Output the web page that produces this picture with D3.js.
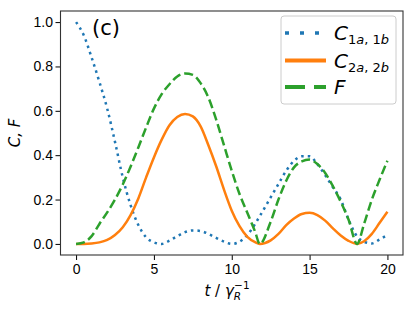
<!DOCTYPE html>
<html>
  <head>
    <meta charset="utf-8">
    <title>C, F vs t</title>
    <style>
    body { margin: 0; background: white; }
    svg { font-family: "DejaVu Sans", sans-serif; }
    .tick text { font-size: 14px; fill: #000; }
    .tick line { stroke: #000; stroke-width: 1; }
    </style>
  </head>
  <body>
    <script src="https://cdn.jsdelivr.net/npm/d3@7/dist/d3.min.js"></script>
    <script>

    var width = 414, height = 311;

    // time axis, t / gamma_R^-1
    var tVals = [0, 0.5, 1, 1.5, 2, 2.5, 3, 3.5, 4, 4.5, 5, 5.5, 6, 6.5, 7, 7.5, 8, 8.5, 9, 9.5,
                 10, 10.5, 11, 11.5, 11.8, 12.5, 13, 13.5, 14, 14.5, 15, 15.5, 16, 16.5, 17, 17.5,
                 18.05, 18.5, 19, 19.5, 20];

    // C_{1a,1b}
    var c1 = [1.0, 0.94, 0.84, 0.73, 0.61, 0.46, 0.30, 0.175, 0.085, 0.03, 0.007, 0.0, 0.015, 0.035, 0.053, 0.061, 0.058, 0.045, 0.027, 0.01,
              0.0, 0.01, 0.04, 0.09, 0.125, 0.21, 0.27, 0.33, 0.375, 0.395, 0.395, 0.36, 0.31, 0.255, 0.2, 0.11,
              0.033, 0.01, 0.002, 0.02, 0.04];

    // C_{2a,2b}
    var c2 = [0, 0, 0.002, 0.007, 0.018, 0.04, 0.075, 0.13, 0.205, 0.3, 0.39, 0.47, 0.535, 0.572, 0.586, 0.575, 0.53, 0.445, 0.35, 0.245,
              0.15, 0.08, 0.032, 0.008, 0.0, 0.016, 0.045, 0.085, 0.115, 0.135, 0.14, 0.13, 0.105, 0.07, 0.038, 0.014,
              0.0, 0.012, 0.045, 0.095, 0.145];

    // F
    var fid = [0, 0.007, 0.035, 0.09, 0.142, 0.2, 0.268, 0.348, 0.435, 0.525, 0.61, 0.675, 0.72, 0.755, 0.768, 0.762, 0.725, 0.66, 0.56, 0.445,
               0.33, 0.225, 0.14, 0.055, 0.0, 0.1, 0.2, 0.285, 0.345, 0.372, 0.38, 0.36, 0.32, 0.26, 0.19, 0.11,
               0.0, 0.09, 0.2, 0.29, 0.375];

    var xTicks = [0, 5, 10, 15, 20];
    var yTicks = [0, 0.2, 0.4, 0.6, 0.8, 1.0];

    var svg = d3.select("body").append("svg")
      .attr("width", width)
      .attr("height", height);

    var mLeft = 60.5, mRight = 403, mTop = 11, mBottom = 255;

    var x = d3.scaleLinear().domain([-1, 21]).range([mLeft, mRight]);
    var y = d3.scaleLinear().domain([-0.05, 1.05]).range([mBottom, mTop]);

    // ejes
    var gx = svg.append("g")
      .attr("transform", "translate(0," + mBottom + ")")
      .call(d3.axisBottom(x).tickValues(xTicks).tickSize(5).tickPadding(4).tickFormat(d3.format("d")));
    gx.select(".domain").remove();

    var gy = svg.append("g")
      .attr("transform", "translate(" + mLeft + ",0)")
      .call(d3.axisLeft(y).tickValues(yTicks).tickSize(5).tickPadding(2.5).tickFormat(d3.format(".1f")));
    gy.select(".domain").remove();

    // series
    var series = [
      { vals: c1, color: "#1f77b4", dash: "2.5,4.1" },
      { vals: c2, color: "#ff7f0e", dash: null },
      { vals: fid, color: "#2ca02c", dash: "9,4" }
    ];

    var line = d3.line()
      .x(function(d) { return x(d[0]); })
      .y(function(d) { return y(d[1]); })
      .curve(d3.curveMonotoneX);

    series.forEach(function(s) {
      svg.append("path")
        .datum(tVals.map(function(t, i) { return [t, s.vals[i]]; }))
        .attr("d", line)
        .attr("fill", "none")
        .attr("stroke", s.color)
        .attr("stroke-width", 2.5)
        .attr("stroke-dasharray", s.dash);
    });

    // caja del grafico
    svg.append("rect")
      .attr("x", mLeft).attr("y", mTop)
      .attr("width", mRight - mLeft).attr("height", mBottom - mTop)
      .attr("fill", "none")
      .attr("stroke", "#333")
      .attr("stroke-width", 1.1);

    svg.append("text")
      .attr("x", 92).attr("y", 35)
      .style("font-size", "21px")
      .text("(c)");

    // leyenda
    var lg = svg.append("g");
    lg.append("rect")
      .attr("x", 281).attr("y", 16)
      .attr("width", 115).attr("height", 88)
      .attr("rx", 3)
      .attr("fill", "white").attr("fill-opacity", 0.8)
      .attr("stroke", "#ccc");

    var legItems = [
      { color: "#1f77b4", dash: "4,11", w: 3.5, main: "C", sub: [["1", false], ["a", true], [", 1", false], ["b", true]], yb: 40 },
      { color: "#ff7f0e", dash: null, w: 4, main: "C", sub: [["2", false], ["a", true], [", 2", false], ["b", true]], yb: 67.5 },
      { color: "#2ca02c", dash: "20,9", w: 4, main: "F", sub: [], yb: 94 }
    ];
    legItems.forEach(function(d) {
      lg.append("line")
        .attr("x1", 285).attr("x2", 326)
        .attr("y1", d.yb - 7).attr("y2", d.yb - 7)
        .attr("stroke", d.color)
        .attr("stroke-width", d.w)
        .attr("stroke-dasharray", d.dash);
      var t = lg.append("text")
        .attr("x", 334).attr("y", d.yb)
        .style("font-size", "20px");
      t.append("tspan").style("font-style", "italic").text(d.main);
      d.sub.forEach(function(p, i) {
        var ts = t.append("tspan")
          .style("font-size", "13px")
          .style("font-style", p[1] ? "italic" : "normal")
          .text(p[0]);
        if (i === 0) ts.attr("dy", 4);
      });
    });

    // etiquetas de ejes
    var xl = svg.append("text")
      .attr("x", 227).attr("y", 296)
      .attr("text-anchor", "middle")
      .style("font-size", "15px");
    xl.append("tspan").style("font-style", "italic").text("t");
    xl.append("tspan").text(" / ");
    xl.append("tspan").style("font-style", "italic").text("γ");
    xl.append("tspan").attr("dy", 4).style("font-size", "10.5px").style("font-style", "italic").text("R");
    xl.append("tspan").attr("dy", -11).attr("dx", -7).style("font-size", "10.5px").text("−1");

    svg.append("text")
      .attr("transform", "translate(20,133) rotate(-90)")
      .attr("text-anchor", "middle")
      .style("font-size", "15px")
      .style("font-style", "italic")
      .text("C, F");

    </script>
  </body>
</html>
